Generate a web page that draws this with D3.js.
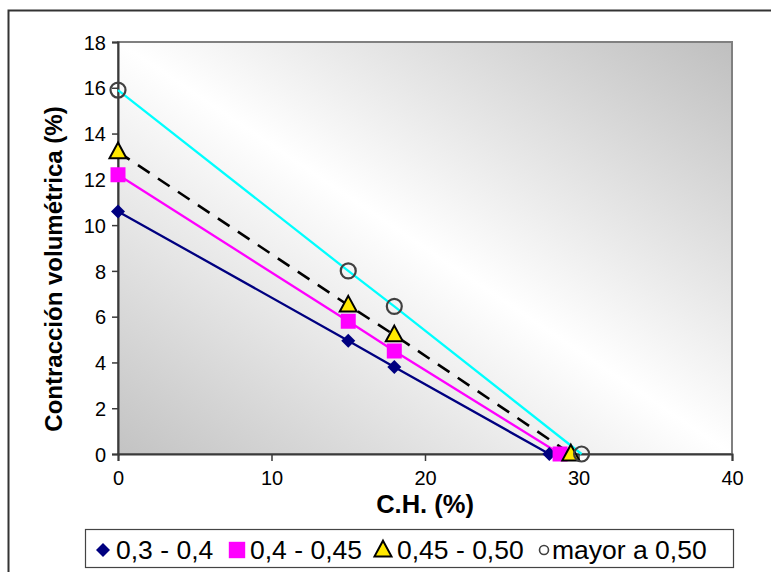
<!DOCTYPE html>
<html>
<head>
<meta charset="utf-8">
<script src="https://cdn.jsdelivr.net/npm/d3@7"></script>
<style>
  html, body { margin: 0; padding: 0; background: #fff; }
  svg { display: block; font-family: "Liberation Sans", Arial, sans-serif; }
</style>
</head>
<body>
<svg id="chart" width="771" height="572"></svg>
<script>
// Contracción volumétrica vs C.H. for four ranges
const seriesNames = ["0,3 - 0,4", "0,4 - 0,45", "0,45 - 0,50", "mayor a 0,50"];
const chA = [0, 15, 18, 28.1];
const cvA = [10.6, 4.95, 3.8, 0];
const chB = [0, 15, 18, 28.8];
const cvB = [12.2, 5.8, 4.5, 0];
const chC = [0, 15, 18, 29.5];
const cvC = [13.2, 6.5, 5.2, 0];
const chD = [0, 15, 18, 30.2];
const cvD = [15.9, 8.0, 6.45, 0];
const xTicks = [0, 10, 20, 30, 40];
const yTicks = [0, 2, 4, 6, 8, 10, 12, 14, 16, 18];
const xTitle = "C.H. (%)";
const yTitle = "Contracción volumétrica (%)";

const svg = d3.select("#chart");
const plot = { left: 118, right: 732, top: 42, bottom: 454 };

const x = d3.scaleLinear().domain([0, 40]).range([plot.left, plot.right]);
const y = d3.scaleLinear().domain([0, 18]).range([plot.bottom, plot.top]);

// outer chart frame
svg.append("rect")
  .attr("x", 8.5).attr("y", 10.5).attr("width", 780).attr("height", 580)
  .attr("fill", "none").attr("stroke", "#333").attr("stroke-width", 2);

// diagonal gradient for plot background
const defs = svg.append("defs");
const grad = defs.append("linearGradient").attr("id", "bg")
  .attr("x1", 0).attr("y1", 1).attr("x2", 1).attr("y2", 0);
grad.append("stop").attr("offset", 0).attr("stop-color", "#c3c3c3");
grad.append("stop").attr("offset", 0.5).attr("stop-color", "#ffffff");
grad.append("stop").attr("offset", 1).attr("stop-color", "#bfbfbf");

svg.append("rect")
  .attr("x", plot.left).attr("y", plot.top)
  .attr("width", plot.right - plot.left).attr("height", plot.bottom - plot.top)
  .attr("fill", "url(#bg)").attr("stroke", "#808080").attr("stroke-width", 2);

// axes
const yAxis = d3.axisLeft(y).tickValues(yTicks).tickSize(6).tickPadding(5).tickFormat(d3.format("d"));
const xAxis = d3.axisBottom(x).tickValues(xTicks).tickSize(7).tickPadding(10).tickFormat(d3.format("d"));

const gy = svg.append("g").attr("transform", `translate(${plot.left},0)`).call(yAxis);
const gx = svg.append("g").attr("transform", `translate(0,${plot.bottom})`).call(xAxis);
[gx, gy].forEach(g => {
  g.select(".domain").attr("stroke", "#3a3a3a").attr("stroke-width", 2);
  g.selectAll(".tick line").attr("stroke", "#3a3a3a").attr("stroke-width", 1.5);
  g.selectAll(".tick text").attr("fill", "#000").style("font-size", "20px")
    .style("font-family", "'Liberation Sans', Arial, sans-serif");
});
gy.selectAll(".tick text").attr("x", -12).attr("dy", "0.36em");
gx.selectAll(".tick text").attr("dy", "0.71em");

// titles
svg.append("text")
  .attr("x", x(20)).attr("y", 513)
  .attr("text-anchor", "middle")
  .style("font-size", "25.5px").style("font-weight", "bold")
  .text(xTitle);

svg.append("text")
  .attr("transform", "translate(62,269) rotate(-90)")
  .attr("text-anchor", "middle")
  .style("font-size", "24px").style("font-weight", "bold")
  .text(yTitle);

// series
const series = [
  { name: seriesNames[0], xs: chA, ys: cvA, color: "#000080", dash: null, marker: "diamond" },
  { name: seriesNames[1], xs: chB, ys: cvB, color: "#ff00ff", dash: null, marker: "square" },
  { name: seriesNames[2], xs: chC, ys: cvC, color: "#000000", dash: "14,10", marker: "triangle" },
  { name: seriesNames[3], xs: chD, ys: cvD, color: "#00ffff", dash: null, marker: "circle" }
];

const line = d3.line().x(d => x(d[0])).y(d => y(d[1]));

function markerPath(type, s) {
  if (type === "diamond") return `M0,${-s}L${s},0L0,${s}L${-s},0Z`;
  if (type === "square") return `M${-s},${-s}H${s}V${s}H${-s}Z`;
  if (type === "triangle") return `M0,${-s * 1.1}L${s},${s * 0.75}L${-s},${s * 0.75}Z`;
  return null;
}

function drawMarker(g, type, cx, cy, big) {
  if (type === "circle") {
    g.append("circle").attr("cx", cx).attr("cy", cy).attr("r", big ? 7.5 : 4.5)
      .attr("fill", "none").attr("stroke", "#404040").attr("stroke-width", big ? 2.2 : 1.6);
  } else if (type === "diamond") {
    g.append("path").attr("transform", `translate(${cx},${cy})`)
      .attr("d", markerPath("diamond", 7)).attr("fill", "#000080");
  } else if (type === "square") {
    g.append("path").attr("transform", `translate(${cx},${cy})`)
      .attr("d", markerPath("square", big ? 7.5 : 8.2)).attr("fill", "#ff00ff");
  } else {
    g.append("path").attr("transform", `translate(${cx},${cy})`)
      .attr("d", markerPath("triangle", 8.5)).attr("fill", "#ffe800")
      .attr("stroke", "#000").attr("stroke-width", 2).attr("stroke-linejoin", "miter");
  }
}

const gLines = svg.append("g");
const gMarks = svg.append("g");
series.forEach(s => {
  const pts = s.xs.map((v, i) => [v, s.ys[i]]);
  gLines.append("path").datum(pts)
    .attr("d", line).attr("fill", "none")
    .attr("stroke", s.color).attr("stroke-width", s.dash ? 2.6 : 2.3)
    .attr("stroke-dasharray", s.dash);
  pts.forEach(p => drawMarker(gMarks, s.marker, x(p[0]), y(p[1]), true));
});

// legend
const legend = svg.append("g");
legend.append("rect")
  .attr("x", 85.5).attr("y", 529.5).attr("width", 648).attr("height", 38)
  .attr("fill", "#fff").attr("stroke", "#444").attr("stroke-width", 1.2);

const legendItems = [
  { marker: "diamond", mx: 103, tx: 116 },
  { marker: "square", mx: 237, tx: 250 },
  { marker: "triangle", mx: 383, tx: 397 },
  { marker: "circle", mx: 544, tx: 552 }
];
legendItems.forEach((it, i) => {
  drawMarker(legend, it.marker, it.mx, 550, false);
  legend.append("text").attr("x", it.tx).attr("y", 559)
    .style("font-size", "26.5px").text(seriesNames[i]);
});
</script>
</body>
</html>
